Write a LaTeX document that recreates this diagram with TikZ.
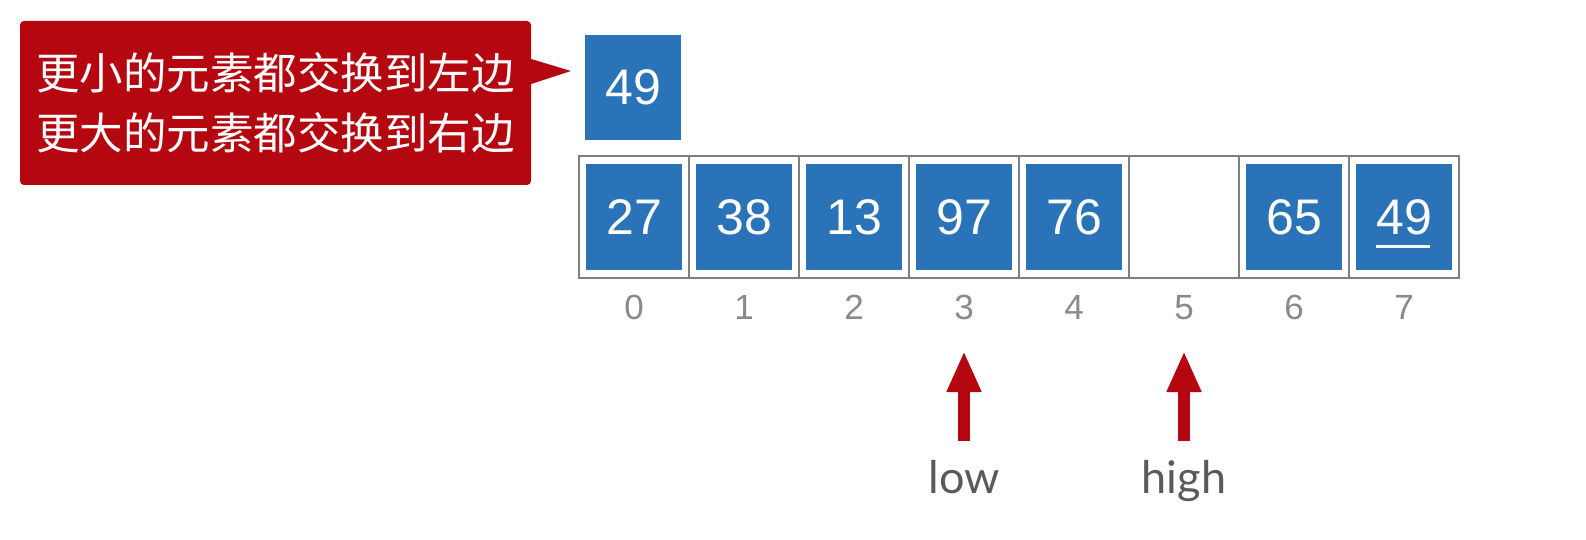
\documentclass[tikz,border=0pt]{standalone}
\usepackage{fontspec}
\setmainfont{Liberation Sans}
\newfontfamily\cjk{Noto Sans CJK SC}
\newfontfamily\latofont{Lato}
\usetikzlibrary{arrows.meta}
\definecolor{cred}{HTML}{B5070F}
\definecolor{cblue}{HTML}{2A73B8}
\definecolor{cframe}{HTML}{7F7F7F}
\definecolor{cidx}{HTML}{8A8A8A}
\definecolor{clbl}{HTML}{5A5A5A}
\begin{document}
\begin{tikzpicture}[x=1pt,y=-1pt,
  cell/.style={draw=cframe, line width=1.5pt, minimum width=110pt, minimum height=122pt, inner sep=0pt},
  val/.style={fill=cblue, text=white, minimum width=96pt, minimum height=105pt, inner sep=0pt, font=\fontsize{50}{50}\selectfont},
  idx/.style={text=cidx, font=\fontsize{35}{35}\selectfont, inner sep=0pt},
  ptr/.style={draw=cred, line width=12pt, -{Triangle[width=32pt,length=41pt]}},
  lbl/.style={text=clbl, font=\latofont\fontsize{45}{45}\selectfont, inner sep=0pt, anchor=base},
  callout/.style={fill=cred, rounded corners=4pt, minimum width=511pt, minimum height=164pt, inner sep=0pt, text=white, align=center, font=\cjk\fontsize{43.5}{60}\selectfont}]
\useasboundingbox (0,0) rectangle (1586,540);

% callout
\node[callout] (note) at (275.5,103) {更小的元素都交换到左边\\更大的元素都交换到右边};
\coordinate (tip) at (571,71);
\fill[cred] ([yshift=-13pt]note.east |- tip) ++(-3,0) -- ++(3,0) -- (tip) -- ([yshift=12pt]note.east |- tip) -- ++(-3,0) -- cycle;

% pivot
\node[val] (pivot) at (633,87.5) {49};

% cells
\foreach \i in {0,...,7}{
  \node[cell] (c\i) at ({634+110*\i},217) {};
  \node[idx] (i\i) at ({634+110*\i},307.5) {\i};
}
\node[val] (v0) at (c0) {27};
\node[val] (v1) at (c1) {38};
\node[val] (v2) at (c2) {13};
\node[val] (v3) at (c3) {97};
\node[val] (v4) at (c4) {76};
\node[val] (v6) at (c6) {65};
\node[val] (v7) at (c7) {49};
\draw[white, line width=3pt] ([xshift=-28pt,yshift=-29.5pt]v7.center) -- ([xshift=26pt,yshift=-29.5pt]v7.center);

% pointers
\coordinate (lowtail) at (964,441);
\coordinate (lowtip) at (964,351);
\coordinate (hightail) at (1184,441);
\coordinate (hightip) at (1184,351);
\draw[ptr] (lowtail) -- (lowtip);
\draw[ptr] (hightail) -- (hightip);
\node[lbl] (low) at (964,493) {low};
\node[lbl] (high) at (1184,493) {high};
\end{tikzpicture}
\end{document}
